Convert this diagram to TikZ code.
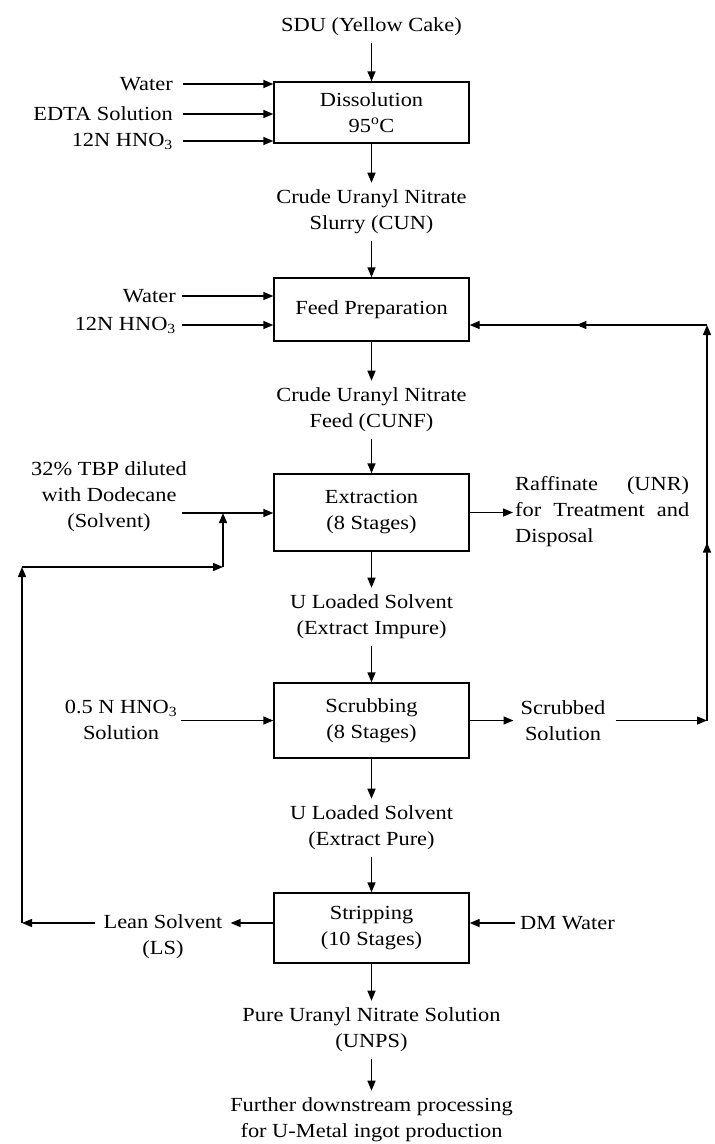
\documentclass[tikz,border=0pt]{standalone}
\usepackage{fontspec}
\setmainfont{Liberation Serif}[FakeStretch=1.12]
\usetikzlibrary{arrows.meta,decorations.markings}

\begin{document}
\begin{tikzpicture}[x=1pt,y=-1pt,
  font=\fontsize{20}{26}\selectfont,
  >={Triangle[length=10pt,width=8pt]},
  flow/.style={draw, line width=1.4pt, ->},
  unit/.style={draw, line width=1.4pt, minimum width=195pt, align=center, inner sep=0pt},
  lbl/.style={align=center, inner xsep=2pt, inner ysep=7pt},
  midtip/.style={postaction={decorate},
    decoration={markings, mark=at position #1 with {\arrow{>}}}}
]
% canvas
\fill[white] (0,0) rectangle (715,1144);
\useasboundingbox (0,0) rectangle (715,1144);

% process units
\node[unit, minimum height=61pt] (dis)   at (371.5,112.5) {Dissolution\\95\textsuperscript{o}C};
\node[unit, minimum height=63pt] (feed)  at (371.5,309.5) {Feed Preparation};
\node[unit, minimum height=77pt] (ext)   at (371.5,512.5) {Extraction\\(8 Stages)};
\node[unit, minimum height=75pt] (scr)   at (371.5,720.5) {Scrubbing\\(8 Stages)};
\node[unit, minimum height=70pt] (strip) at (371.5,928)   {Stripping\\(10 Stages)};

% main stream labels
\node[lbl] (sdu)     at (371.5,27)   {SDU (Yellow Cake)};
\node[lbl] (cun)     at (371.5,212)  {Crude Uranyl Nitrate\\Slurry (CUN)};
\node[lbl] (cunf)    at (371.5,410)  {Crude Uranyl Nitrate\\Feed (CUNF)};
\node[lbl] (uls1)    at (371.5,617)  {U Loaded Solvent\\(Extract Impure)};
\node[lbl] (uls2)    at (371.5,828)  {U Loaded Solvent\\(Extract Pure)};
\node[lbl] (unps)    at (371.5,1030) {Pure Uranyl Nitrate Solution\\(UNPS)};
\node[lbl] (further) at (371.5,1120) {Further downstream processing\\for U-Metal ingot production};

% side feeds
\node[lbl, anchor=east, inner xsep=0pt] (w1) at (173,84)  {Water};
\node[lbl, anchor=east, inner xsep=0pt] (e1) at (173,114) {EDTA Solution};
\node[lbl, anchor=east, inner xsep=0pt] (n1) at (173,141) {12N HNO\textsubscript{3}};
\node[lbl, anchor=east, inner xsep=0pt] (w2) at (176,296) {Water};
\node[lbl, anchor=east, inner xsep=0pt] (n2) at (176,325) {12N HNO\textsubscript{3}};
\node[lbl, inner xsep=0pt] (solv) at (109,497) {32\% TBP diluted\\with Dodecane\\(Solvent)};
\node[anchor=west, text width=174pt, align=left, inner sep=0pt] (raf) at (515,512)
  {Raffinate\hfill(UNR)\\for\hfill Treatment\hfill and\\Disposal};
\node[lbl, inner xsep=0pt] (hno)  at (121,720) {0.5 N HNO\textsubscript{3}\\Solution};
\node[lbl, inner xsep=0pt] (scrb) at (563,721) {Scrubbed\\Solution};
\node[lbl, inner xsep=0pt] (lean) at (163,936.5) {Lean Solvent\\(LS)};
\node[lbl, anchor=west, inner xsep=0pt] (dm) at (520,923) {DM Water};

% recycle corners
\coordinate (rb) at (707,720.5);
\coordinate (rt) at (707,325);
\coordinate (lb) at (22,923);
\coordinate (lt) at (22,567);
\coordinate (lj) at (223,567);
\coordinate (sj) at (223,513);

% main stream
\draw[flow] (sdu.south)  -- (dis.north);
\draw[flow] (dis.south)  -- (cun.north);
\draw[flow] (cun.south)  -- (feed.north);
\draw[flow] (feed.south) -- (cunf.north);
\draw[flow] (cunf.south) -- (ext.north);
\draw[flow] (ext.south)  -- (uls1.north);
\draw[flow] (uls1.south) -- (scr.north);
\draw[flow] (scr.south)  -- (uls2.north);
\draw[flow] (uls2.south) -- (strip.north);
\draw[flow] (strip.south) -- (unps.north);
\draw[flow] (unps.south) -- (further.north);

% side feeds into units
\draw[flow] ([xshift=10pt]w1.east) -- (w1.east -| dis.west);
\draw[flow] ([xshift=10pt]e1.east) -- (e1.east -| dis.west);
\draw[flow] ([xshift=10pt]n1.east) -- (n1.east -| dis.west);
\draw[flow] ([xshift=6pt]w2.east) -- (w2.east -| feed.west);
\draw[flow] ([xshift=6pt]n2.east |- rt) -- (rt -| feed.west);
\draw[flow] ([xshift=-5pt]solv.east |- sj) -- (sj -| ext.west);
\draw[flow] ([xshift=4pt]hno.east |- scr.west) -- (scr.west);
\draw[flow] ([xshift=-5pt]dm.west) -- (dm.west -| strip.east);

% outlets
\draw[flow] (ext.east) -- ([xshift=-2pt]raf.west |- ext.east);
\draw[flow] (scr.east) -- ([xshift=-7pt]scrb.west |- scr.east);
\draw[flow] ([xshift=10pt]scrb.east |- rb) -- (rb);
\draw[flow] (strip.west |- lb) -- ([xshift=8pt]lean.east |- lb);
\draw[flow] ([xshift=-8pt]lean.west |- lb) -- (lb);

% scrubbed solution recycle to feed preparation
\draw[flow, midtip=0.45] (rb) -- (rt);
\draw[flow, midtip=0.55] (rt) -- (rt -| feed.east);

% lean solvent recycle to extraction
\draw[flow] (lb) -- (lt);
\draw[flow] (lt) -- (lj);
\draw[flow] (lj) -- (sj);
\end{tikzpicture}
\end{document}
